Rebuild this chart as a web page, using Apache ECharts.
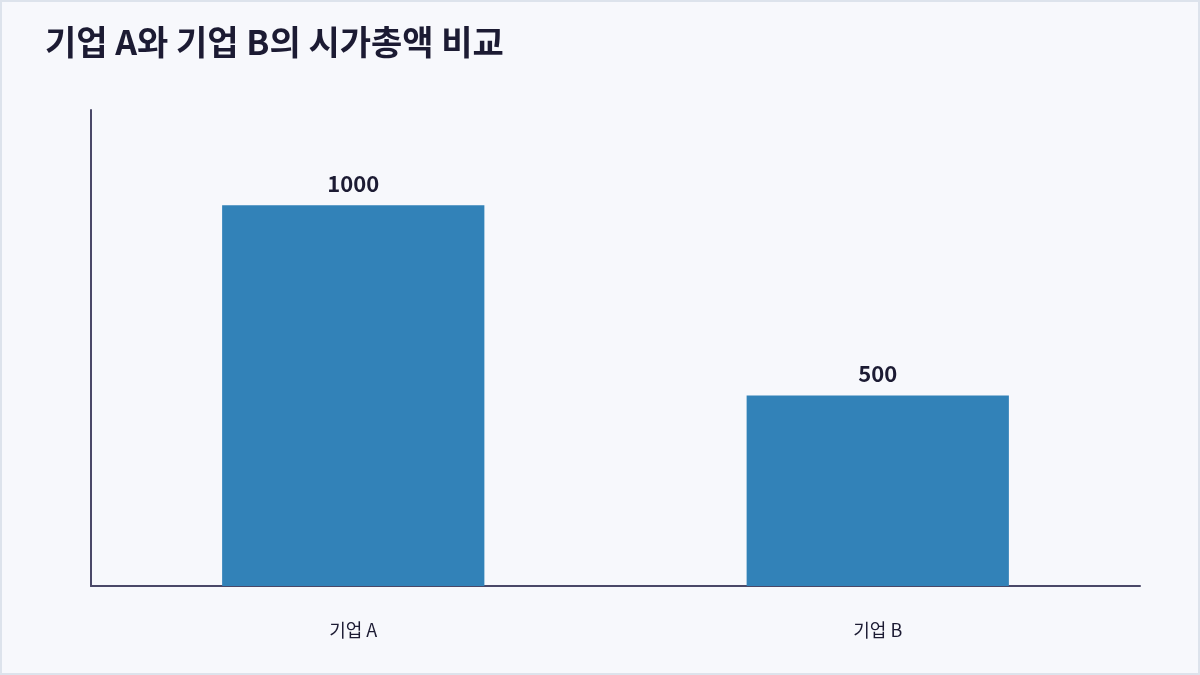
<!DOCTYPE html>
<html>
<head>
<meta charset="utf-8">
<script src="https://cdn.jsdelivr.net/npm/echarts@6/dist/echarts.min.js"></script>
<style>
  html, body { margin: 0; padding: 0; background: #f7f8fc; }
  #chart {
    width: 1200px; height: 675px; box-sizing: border-box;
    border: 2px solid #dde3ec; background: #f7f8fc;
  }
</style>
</head>
<body>
<div id="chart"></div>
<script>
const companies = ['기업 A', '기업 B'];
const marketCaps = [1000, 500];

const chart = echarts.init(document.getElementById('chart'), null, {renderer: 'canvas'});
const font = '"Noto Sans CJK KR", "Noto Sans", sans-serif';

chart.setOption({
  backgroundColor: '#f7f8fc',
  animation: false,
  title: {
    text: '기업 A와 기업 B의 시가총액 비교',
    left: 38,
    top: 18,
    textStyle: {
      fontFamily: font,
      fontSize: 34,
      fontWeight: 'bold',
      color: '#1c1b33'
    }
  },
  grid: {left: 89, right: 58, top: 108, bottom: 87},
  xAxis: {
    type: 'category',
    data: companies,
    axisLine: {lineStyle: {color: '#4a4868', width: 2}},
    axisTick: {show: false},
    axisLabel: {
      margin: 35,
      fontFamily: font,
      fontSize: 18,
      color: '#1c1b33'
    }
  },
  yAxis: {
    type: 'value',
    min: 0,
    max: 1250,
    axisLine: {show: true, lineStyle: {color: '#4a4868', width: 2}},
    axisTick: {show: false},
    axisLabel: {show: false},
    splitLine: {show: false}
  },
  series: [{
    type: 'bar',
    data: marketCaps,
    barWidth: '50%',
    itemStyle: {color: '#3282b8'},
    label: {
      show: true,
      position: 'top',
      distance: 11,
      fontFamily: font,
      fontSize: 22,
      fontWeight: 'bold',
      color: '#1c1b33'
    }
  }]
});
</script>
</body>
</html>
